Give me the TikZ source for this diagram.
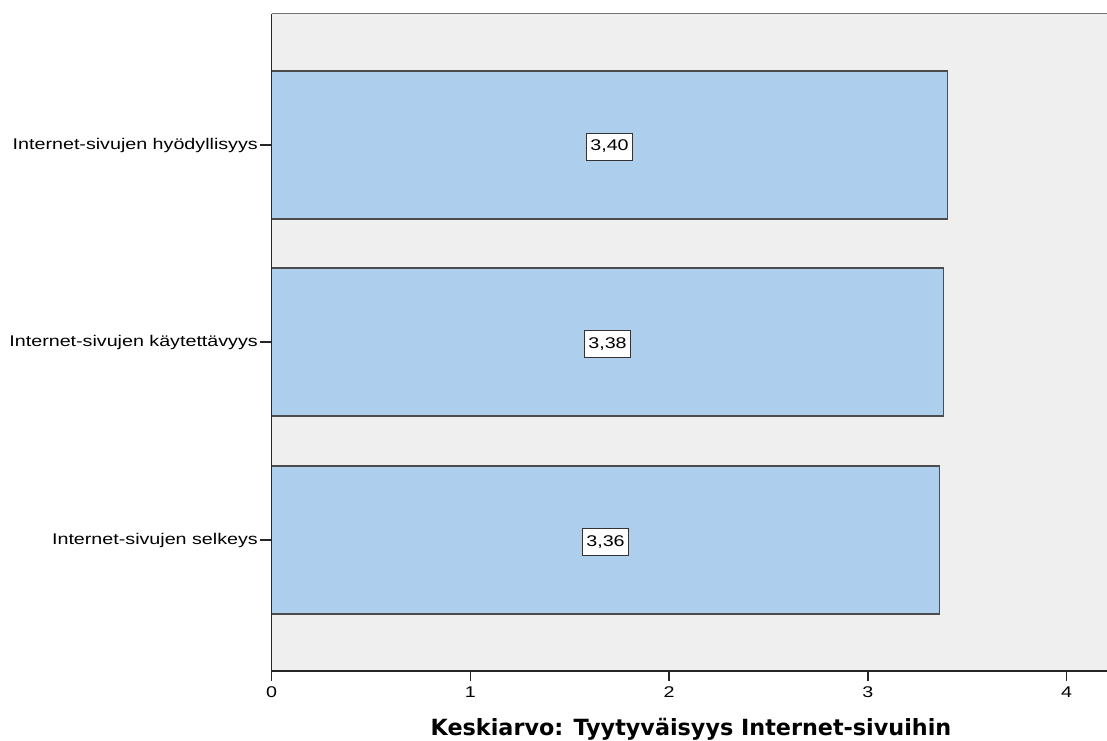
\documentclass[tikz,border=0pt]{standalone}
\usepackage{fontspec}
\setmainfont{Liberation Sans}
\newfontfamily\labfont[FakeStretch=1.27]{Liberation Sans}
\newfontfamily\titlefont{DejaVu Sans}
\definecolor{barblue}{RGB}{173,207,237}
\definecolor{plotgray}{RGB}{239,239,239}
\newcommand{\labsize}{\labfont\fontsize{15.5}{17}\selectfont}

\begin{document}
\begin{tikzpicture}[x=1pt,y=-1pt,
	bar/.style={ draw=black!70, fill=barblue, line width=1.5pt },
	valbox/.style={ draw=black!80, fill=white, line width=1pt, inner xsep=3.5pt, inner ysep=0pt, minimum height=27pt, font=\labsize },
	catlabel/.style={ anchor=east, inner sep=0pt, font=\labsize },
	ticklabel/.style={ anchor=center, inner sep=0pt, font=\labsize },
	axis/.style={ draw=black!85, line width=1.5pt }
]
\useasboundingbox (0,0) rectangle (1107,740);

% plot area
\fill[plotgray] (271.5,13.5) rectangle (1107,671);
\draw[black!55, line width=1.5pt] (271.5,13.5) to (1107,13.5);

% bars (unit 198.75 per scale step)
\draw[bar] (271.5,71) rectangle (947.5,219);
\node at (609.5,146.5) (v1) [valbox] {3,40};
\draw[bar] (271.5,268) rectangle (943.5,416);
\node at (607.5,344) (v2) [valbox] {3,38};
\draw[bar] (271.5,466) rectangle (939.5,614);
\node at (605.5,542) (v3) [valbox] {3,36};

% axes
\draw[axis] (271.5,13.5) to (271.5,681);
\draw[axis] (270.75,671) to (1107,671);

% category axis
\node at (258,145) (c1) [catlabel] {Internet-sivujen hyödyllisyys};
\draw[axis] (260,145) to (271.5,145);
\node at (258,342) (c2) [catlabel] {Internet-sivujen käytettävyys};
\draw[axis] (260,342) to (271.5,342);
\node at (258,540) (c3) [catlabel] {Internet-sivujen selkeys};
\draw[axis] (260,540) to (271.5,540);

% scale axis
\foreach \k in {0,...,4} {
	\draw[axis] (271.5+198.75*\k,671) to (271.5+198.75*\k,681);
	\node at (271.5+198.75*\k,692) (t\k) [ticklabel] {\k};
}
\node at (691,735) (title) [anchor=base, inner sep=0pt, font=\titlefont\bfseries\fontsize{22.3}{24}\selectfont] {Keskiarvo: Tyytyväisyys Internet-sivuihin};

\end{tikzpicture}
\end{document}
